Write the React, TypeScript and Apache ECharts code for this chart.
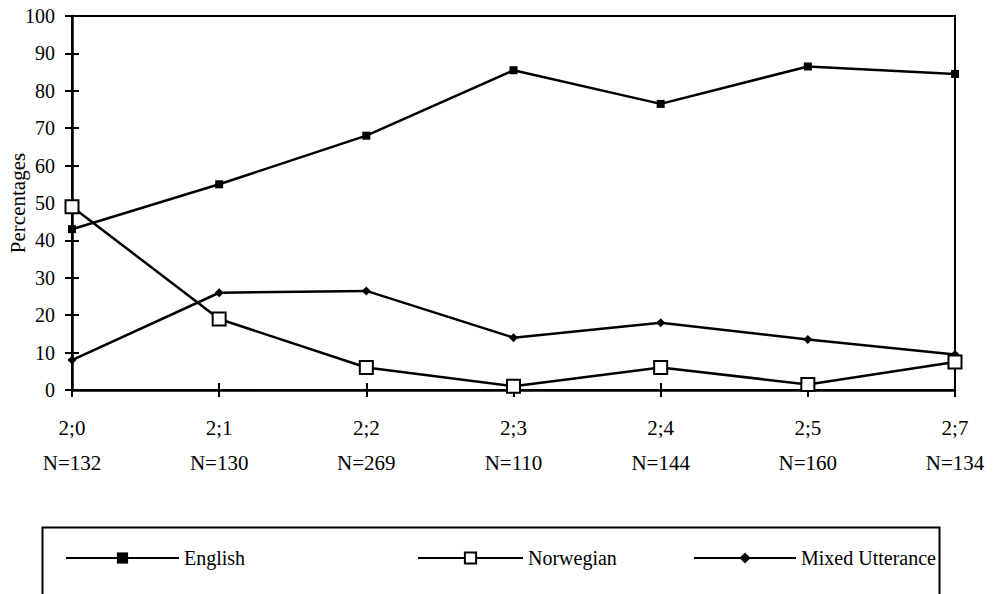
import React, { useEffect, useRef } from "react";
import * as echarts from "echarts";

const ages = ["2;0", "2;1", "2;2", "2;3", "2;4", "2;5", "2;7"];
const sampleN = [132, 130, 269, 110, 144, 160, 134];
const english = [43, 55, 68, 85.5, 76.5, 86.5, 84.5];
const norwegian = [49, 19, 6, 1, 6, 1.5, 7.5];
const mixed = [8, 26, 26.5, 14, 18, 13.5, 9.5];
const yTicks = { min: 0, max: 100, interval: 10 };

const FONT = '"Liberation Serif", "Times New Roman", serif';

export default function App() {
  const ref = useRef<HTMLDivElement>(null);
  useEffect(() => {
    if (!ref.current) return;
    const chart = echarts.init(ref.current, null, { renderer: "svg" });
    const categories = ages.map((a, i) => `${a}\nN=${sampleN[i]}`);
    const legendText = { fontFamily: FONT, fontSize: 20, color: "#000" };
    chart.setOption({
      animation: false,
      backgroundColor: "#fff",
      grid: {
        left: 72,
        right: 48,
        top: 16,
        bottom: 204,
        show: true,
        borderColor: "#000",
        borderWidth: 2,
        containLabel: false,
        outerBoundsMode: "none",
      },
      xAxis: [
        {
          type: "category",
          data: categories,
          boundaryGap: false,
          axisLine: { lineStyle: { color: "#000", width: 2.5 } },
          axisTick: { show: true, length: 7, lineStyle: { color: "#000", width: 2 } },
          axisLabel: {
            color: "#000",
            fontFamily: FONT,
            fontSize: 21,
            lineHeight: 35,
            margin: 20,
            interval: 0,
          },
          splitLine: { show: false },
        },
        {
          type: "category",
          data: categories,
          boundaryGap: false,
          position: "bottom",
          axisLine: { show: false },
          axisTick: { show: true, inside: true, length: 7, lineStyle: { color: "#000", width: 2 } },
          axisLabel: { show: false },
          splitLine: { show: false },
        },
      ],
      yAxis: [
        {
          type: "value",
          min: yTicks.min,
          max: yTicks.max,
          interval: yTicks.interval,
          name: "Percentages",
          nameLocation: "middle",
          nameGap: 44,
          nameRotate: 90,
          nameMoveOverlap: false,
          nameTextStyle: { color: "#000", fontFamily: FONT, fontSize: 21 },
          axisLine: { show: true, lineStyle: { color: "#000", width: 2.5 } },
          axisTick: { show: true, length: 7, lineStyle: { color: "#000", width: 2 } },
          axisLabel: { color: "#000", fontFamily: FONT, fontSize: 20, margin: 17 },
          splitLine: { show: false },
        },
        {
          type: "value",
          min: yTicks.min,
          max: yTicks.max,
          interval: yTicks.interval,
          position: "left",
          axisLine: { show: false },
          axisTick: { show: true, inside: true, length: 7, lineStyle: { color: "#000", width: 2 } },
          axisLabel: { show: false },
          splitLine: { show: false },
        },
      ],
      legend: [
        {
          data: ["English"],
          left: 60,
          top: 543,
          itemWidth: 113,
          itemHeight: 14,
          itemGap: 0,
          textStyle: legendText,
        },
        {
          data: ["Norwegian"],
          left: 412,
          top: 543,
          itemWidth: 105,
          itemHeight: 14,
          itemGap: 0,
          textStyle: legendText,
        },
        {
          data: ["Mixed Utterance"],
          left: 688,
          top: 543,
          itemWidth: 102,
          itemHeight: 14,
          itemGap: 0,
          textStyle: legendText,
        },
      ],
      graphic: [
        {
          type: "rect",
          left: 40,
          top: 525,
          shape: { width: 897, height: 100 },
          style: { fill: "none", stroke: "#000", lineWidth: 2 },
          z: 0,
        },
      ],
      series: [
        {
          name: "English",
          type: "line",
          data: english,
          symbol: "rect",
          symbolSize: 8,
          showAllSymbol: true,
          lineStyle: { color: "#000", width: 2.5 },
          itemStyle: { color: "#000" },
          z: 3,
        },
        {
          name: "Norwegian",
          type: "line",
          data: norwegian,
          symbol: "rect",
          symbolSize: 13,
          showAllSymbol: true,
          lineStyle: { color: "#000", width: 2.5 },
          itemStyle: { color: "#fff", borderColor: "#000", borderWidth: 2 },
          z: 4,
        },
        {
          name: "Mixed Utterance",
          type: "line",
          data: mixed,
          symbol: "diamond",
          symbolSize: 9,
          showAllSymbol: true,
          lineStyle: { color: "#000", width: 2.5 },
          itemStyle: { color: "#000" },
          z: 3,
        },
      ],
    });
    return () => chart.dispose();
  }, []);
  return (
    <div
      ref={ref}
      style={{ position: "fixed", left: 0, top: 0, width: 1003, height: 594, background: "#fff" }}
    />
  );
}
